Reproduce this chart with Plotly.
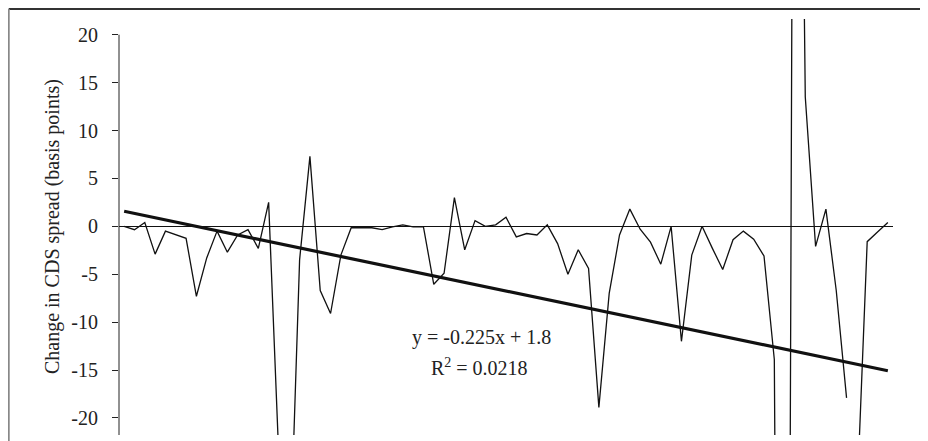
import plotly.graph_objects as go

# ---- data ----
periods = list(range(1, 76))
cds_change = [
    0.0, -0.35, 0.4, -2.9, -0.5, -0.85, -1.25, -7.3, -3.3, -0.5,
    -2.7, -0.9, -0.35, -2.3, 2.5, -24.5, -36.5, -3.5, 7.3, -6.7,
    -9.1, -3.0, -0.15, -0.15, -0.15, -0.35, -0.05, 0.15, -0.05, -0.05,
    -6.05, -4.9, 3.0, -2.45, 0.6, 0.0, 0.15, 0.95, -1.1, -0.75,
    -0.9, 0.15, -1.8, -5.0, -2.45, -4.4, -18.9, -7.0, -0.9, 1.8,
    -0.3, -1.65, -3.95, 0.0, -12.0, -3.0, 0.0, -2.3, -4.5, -1.4,
    -0.5, -1.35, -3.1, -13.9, -180.0, 110.0, 13.5, -2.1, 1.8, -6.7,
    -17.9, -28.6, -1.6, -0.6, 0.4,
]
trend_slope = -0.225
trend_intercept = 1.8
r_squared = 0.0218
y_ticks = [-20, -15, -10, -5, 0, 5, 10, 15, 20]
y_title = "Change in CDS spread (basis points)"
gap_after = 71  # the reference line breaks after this period

FONT = "Liberation Serif"
TXT = "#222222"

trend_x = [periods[0], periods[-1]]
trend_y = [trend_slope * x + trend_intercept for x in trend_x]

fig = go.Figure()
fig.add_trace(go.Scatter(x=periods[:gap_after], y=cds_change[:gap_after], mode="lines",
                         line=dict(color="#111111", width=1.3), showlegend=False))
fig.add_trace(go.Scatter(x=periods[gap_after:], y=cds_change[gap_after:], mode="lines",
                         line=dict(color="#111111", width=1.3), showlegend=False))
fig.add_trace(go.Scatter(x=trend_x, y=trend_y, mode="lines",
                         line=dict(color="#111111", width=3.2), showlegend=False))

y_lo, y_hi = -21.78, 21.64

# the page body adds an 8px offset; figure is sized to compensate
fig.update_layout(
    width=920, height=433,
    margin=dict(l=111, r=35, t=11, b=6),
    paper_bgcolor="white", plot_bgcolor="white",
    font=dict(family=FONT, size=20, color=TXT),
    xaxis=dict(range=[0.5, 75.5], showgrid=False, zeroline=False, showline=False,
               showticklabels=False, ticks=""),
    yaxis=dict(range=[y_lo, y_hi], tickvals=y_ticks, ticktext=[str(v) for v in y_ticks],
               showgrid=False, zeroline=True, zerolinecolor="#111111", zerolinewidth=1,
               showline=False, ticks="outside", ticklen=6, tickwidth=1, tickcolor="#222222",
               ticklabelstandoff=10, tickfont=dict(family=FONT, size=20, color=TXT)),
    shapes=[
        # y axis line from bottom to the 20 tick
        dict(type="line", xref="paper", yref="y", x0=0, x1=0, y0=y_lo, y1=20,
             line=dict(color="#222222", width=1)),
        # outer frame (top and left visible)
        dict(type="line", xref="paper", yref="paper", x0=-0.1425, x1=1.06, y0=1.0240, y1=1.0240,
             line=dict(color="#333333", width=1.8)),
        dict(type="line", xref="paper", yref="paper", x0=-0.1425, x1=-0.1425, y0=1.0240, y1=-0.02,
             line=dict(color="#888888", width=2)),
    ],
    annotations=[
        dict(text=y_title, xref="paper", yref="paper", x=-0.0865, y=0.5, textangle=-90,
             showarrow=False, xanchor="center", yanchor="middle",
             font=dict(family=FONT, size=20, color=TXT)),
        dict(text=f"y = {trend_slope}x + {trend_intercept}", xref="paper", yref="paper",
             x=0.468, y=0.234, showarrow=False, xanchor="center", yanchor="middle",
             font=dict(family=FONT, size=20, color=TXT)),
        dict(text=f"R<sup>2</sup> = {r_squared}", xref="paper", yref="paper",
             x=0.466, y=0.164, showarrow=False, xanchor="center", yanchor="middle",
             font=dict(family=FONT, size=20, color=TXT)),
    ],
)

fig.write_html("out.html")
